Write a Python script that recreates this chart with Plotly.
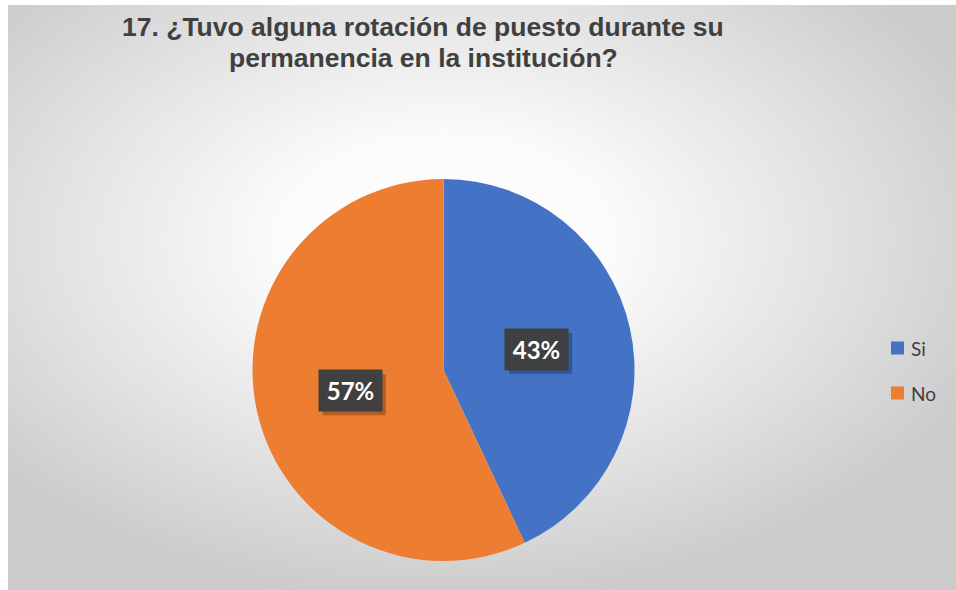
import base64
import math
import plotly.graph_objects as go

# Survey answers and their shares
categories = ["Si", "No"]
shares = [43, 57]
colors = ["#4472C4", "#ED7D31"]
title_lines = ["17. ¿Tuvo alguna rotación de puesto durante su",
               "permanencia en la institución?"]

W, H = 956, 590
CX, CY, R = 443.5, 370.0, 191.0   # pie centre and radius in pixels

# Soft radial background for the chart area
svg = (
    '<svg xmlns="http://www.w3.org/2000/svg" width="948" height="585">'
    '<defs><radialGradient id="g" cx="0.46" cy="0.40" r="0.62">'
    '<stop offset="0" stop-color="#ffffff"/>'
    '<stop offset="0.28" stop-color="#fbfbfb"/>'
    '<stop offset="0.65" stop-color="#e3e3e3"/>'
    '<stop offset="1" stop-color="#cbcbcb"/>'
    '</radialGradient></defs>'
    '<rect width="948" height="585" fill="url(#g)"/></svg>'
)
bg_uri = "data:image/svg+xml;base64," + base64.b64encode(svg.encode()).decode()

fig = go.Figure(go.Pie(
    labels=categories,
    values=shares,
    marker=dict(colors=colors, line=dict(width=0)),
    sort=False,
    direction="clockwise",
    rotation=0,
    textinfo="none",
    hoverinfo="label+percent",
    domain=dict(x=[(CX - R) / W, (CX + R) / W],
                y=[(H - CY - R) / H, (H - CY + R) / H]),
    showlegend=False,
))

annotations = []
shapes = []

# Percentage badges at half radius along each slice's mid-angle
BW, BH = 63, 41
total = sum(shares)
start = 0.0
for cat, val in zip(categories, shares):
    frac = val / total
    mid = (start + frac / 2) * 2 * math.pi
    start += frac
    px = CX + 0.5 * R * math.sin(mid)
    py = CY - 0.5 * R * math.cos(mid)
    label = f"{round(100 * frac)}%"
    # drop shadow
    shapes.append(dict(
        type="rect", xref="paper", yref="paper", layer="above",
        x0=(px - BW / 2 + 4) / W, x1=(px + BW / 2 + 4) / W,
        y0=(H - py - BH / 2 - 4) / H, y1=(H - py + BH / 2 - 4) / H,
        fillcolor="rgba(0,0,0,0.25)", line=dict(width=0),
    ))
    annotations.append(dict(
        x=px / W, y=(H - py) / H, xref="paper", yref="paper",
        text=f"<b>{label}</b>", showarrow=False, width=BW, height=BH,
        bgcolor="#404040", borderpad=0,
        font=dict(family="Lato, Open Sans, sans-serif", size=24, color="#ffffff"),
    ))

# Title
for i, line in enumerate(title_lines):
    annotations.append(dict(
        x=423 / W, y=(H - 27 - i * 31) / H, xref="paper", yref="paper",
        xanchor="center", yanchor="middle", showarrow=False,
        text=f"<b>{line}</b>",
        font=dict(family="Liberation Sans, Arial, sans-serif", size=26.5, color="#404040"),
    ))

# Legend
for i, (cat, col) in enumerate(zip(categories, colors)):
    ly = 348 + i * 45
    shapes.append(dict(
        type="rect", xref="paper", yref="paper",
        x0=891 / W, x1=904 / W, y0=(H - ly - 6.5) / H, y1=(H - ly + 6.5) / H,
        fillcolor=col, line=dict(width=0),
    ))
    annotations.append(dict(
        x=909 / W, y=(H - ly) / H, xref="paper", yref="paper",
        xanchor="left", yanchor="middle", showarrow=False, text=cat,
        font=dict(family="Lato, Open Sans, sans-serif", size=19, color="#404040"),
    ))

fig.update_layout(
    width=W, height=H,
    margin=dict(l=0, r=0, t=0, b=0),
    paper_bgcolor="#ffffff",
    plot_bgcolor="#ffffff",
    images=[dict(
        source=bg_uri, xref="paper", yref="paper",
        x=8 / W, y=1 - 5 / H, sizex=1 - 8 / W, sizey=1 - 5 / H,
        xanchor="left", yanchor="top", sizing="stretch", layer="below",
    )],
    annotations=annotations,
    shapes=shapes,
)

fig.write_html("out.html")
